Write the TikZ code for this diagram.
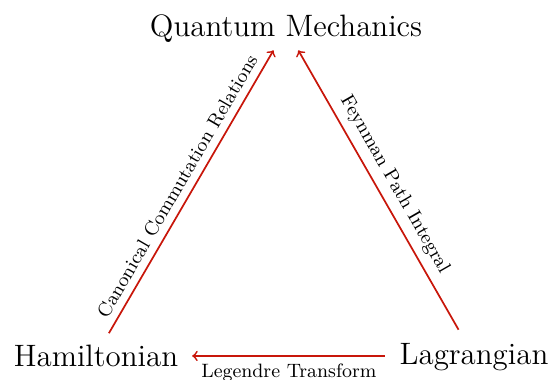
\documentclass[tikz,border=0pt]{standalone}
\definecolor{relred}{RGB}{200,22,10}
\begin{document}
\begin{tikzpicture}[x=0.4651pt,y=-0.4651pt,
  term/.style={font=\Large,inner sep=3.33pt},
  rel/.style={->,thick,draw=relred},
  lab/.style={font=\small,text=black}]
\useasboundingbox (0,0) rectangle (552,379);
\node[term,anchor=base] (QM) at (286,36.7) {Quantum Mechanics};
\node[term,anchor=base] (H) at (96,366) {Hamiltonian};
\node[term,anchor=base] (L) at (474,364) {Lagrangian};
\draw[rel,shorten <=2pt] (H) -- node[lab,midway,above,sloped] {Canonical Commutation Relations} (QM);
\draw[rel,shorten <=3pt] (L) -- node[lab,midway,above,sloped] {Feynman Path Integral} (QM);
\draw[rel,shorten <=3.5pt,shorten >=3pt,transform canvas={yshift=-0.25pt}] (H.east -| L.west) -- node[lab,midway,below] {Legendre Transform} (H.east);
\end{tikzpicture}
\end{document}
